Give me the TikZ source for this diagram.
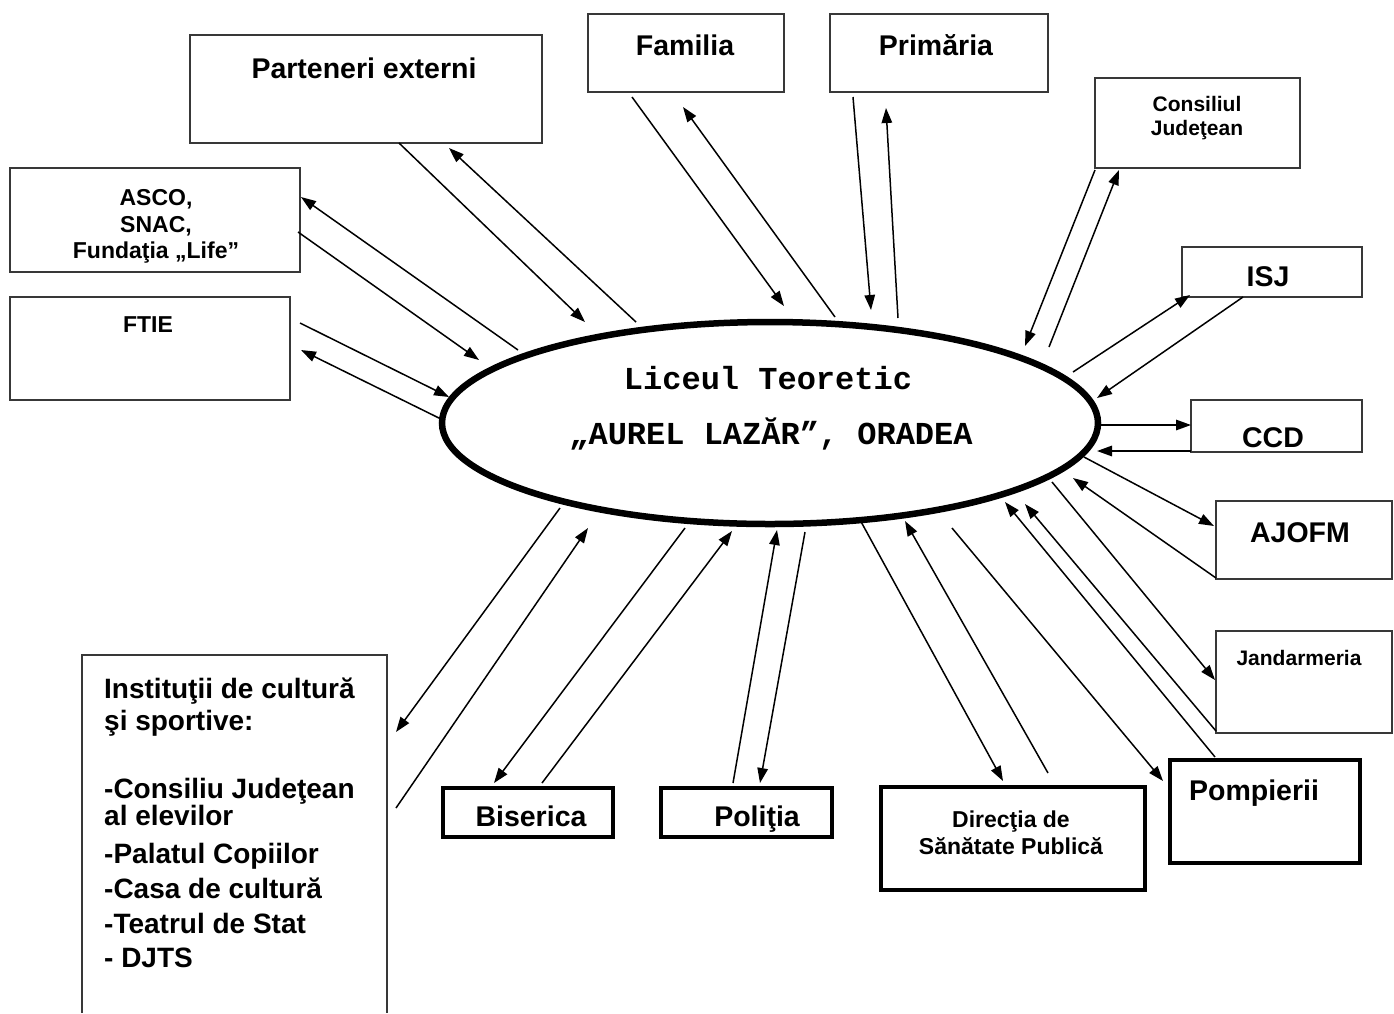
\documentclass[tikz,border=0pt]{standalone}
\usepackage{fontspec}
\setmainfont{Liberation Sans}
\newfontfamily\ellfont{Liberation Mono}
\usetikzlibrary{arrows.meta,shapes.geometric}
\tikzset{
  thinbox/.style={draw=black!78, line width=1.8pt, inner sep=0pt, outer sep=0pt, anchor=north west},
  thickbox/.style={draw=black, line width=3.2pt, inner sep=0pt, outer sep=0pt, anchor=north west},
  big/.style={font=\fontsize{28.5}{32}\selectfont\bfseries, inner sep=0pt, anchor=base},
  mid/.style={font=\fontsize{23}{26}\selectfont\bfseries, inner sep=0pt, anchor=base},
  small/.style={font=\fontsize{21}{24}\selectfont\bfseries, inner sep=0pt, anchor=base},
  insttxt/.style={font=\fontsize{28}{32}\selectfont\bfseries, inner sep=0pt, anchor=base west},
  elltxt/.style={font=\ellfont\fontsize{32}{36}\selectfont\bfseries, inner sep=0pt, anchor=base},
  conn/.style={line width=1.5pt, -{Triangle[length=15pt,width=10.5pt]}},
}
\begin{document}
\begin{tikzpicture}[x=1pt,y=-1pt]
\useasboundingbox[fill=white] (0,0) rectangle (1394,1013);

% central ellipse
\node[draw, ellipse, line width=6.5pt, minimum width=656pt, minimum height=202pt, inner sep=0pt] (lic) at (770,423) {};
\node[elltxt] (lic1) at (768,389) {Liceul Teoretic};
\node[elltxt] (lic2) at (771,444) {„AUREL LAZĂR”, ORADEA};

% thin boxes
\node[thinbox, minimum width=352pt, minimum height=108pt] (par) at (190,35) {};
\node[thinbox, minimum width=196pt, minimum height=78pt] (fam) at (588,14) {};
\node[thinbox, minimum width=218pt, minimum height=78pt] (pri) at (830,14) {};
\node[thinbox, minimum width=205pt, minimum height=90pt] (cj) at (1095,78) {};
\node[thinbox, minimum width=180pt, minimum height=50pt] (isj) at (1182,247) {};
\node[thinbox, minimum width=171pt, minimum height=52pt] (ccd) at (1191,400) {};
\node[thinbox, minimum width=176pt, minimum height=78pt] (ajofm) at (1216,501) {};
\node[thinbox, minimum width=176pt, minimum height=102pt] (jand) at (1216,631) {};
\node[thinbox, minimum width=290pt, minimum height=104pt] (asco) at (10,168) {};
\node[thinbox, minimum width=280pt, minimum height=103pt] (ftie) at (10,297) {};
\draw[draw=black!78, line width=1.8pt] (82,1013) |- (387,655) -- (387,1013);
\coordinate (inst) at (234,655);

% thick boxes
\node[thickbox, minimum width=170pt, minimum height=49pt] (bis) at (443,788) {};
\node[thickbox, minimum width=171pt, minimum height=49pt] (pol) at (661,788) {};
\node[thickbox, minimum width=264pt, minimum height=103pt] (dsp) at (881,787) {};
\node[thickbox, minimum width=190pt, minimum height=103pt] (pom) at (1170,760) {};

% labels
\node[big] (tpar) at (364,78) {Parteneri externi};
\node[big] (tfam) at (685,55) {Familia};
\node[big] (tpri) at (936,55) {Primăria};
\node[small] (tcj1) at (1197,111.5) {Consiliul};
\node[small] (tcj2) at (1197,135.5) {Judeţean};
\node[big] (tisj) at (1268,286) {ISJ};
\node[big] (tccd) at (1273,447) {CCD};
\node[big] (tajo) at (1300,542) {AJOFM};
\node[small] (tjan) at (1299,665.5) {Jandarmeria};
\node[big] (tpom) at (1254,800) {Pompierii};
\node[mid] (tdsp1) at (1011,827) {Direcţia de};
\node[mid] (tdsp2) at (1011,854) {Sănătate Publică};
\node[big] (tpol) at (757,826) {Poliţia};
\node[big] (tbis) at (531,826) {Biserica};
\node[mid] (tas1) at (156,205) {ASCO,};
\node[mid] (tas2) at (156,232) {SNAC,};
\node[mid] (tas3) at (156,258) {Fundaţia „Life”};
\node[mid] (tftie) at (148,332) {FTIE};
\node[insttxt] (ti1) at (104,698) {Instituţii de cultură};
\node[insttxt] (ti2) at (104,730) {şi sportive:};
\node[insttxt] (ti3) at (104,798) {-Consiliu Judeţean};
\node[insttxt] (ti4) at (104,825) {al elevilor};
\node[insttxt] (ti5) at (104,863) {-Palatul Copiilor};
\node[insttxt] (ti6) at (104,898) {-Casa de cultură};
\node[insttxt] (ti7) at (104,933) {-Teatrul de Stat};
\node[insttxt] (ti8) at (104,967) {- DJTS};

% connector end points
\coordinate (a1s) at (399,143);  \coordinate (a1e) at (585,322);
\coordinate (a2s) at (636,322);  \coordinate (a2e) at (449,148);
\coordinate (a3s) at (518,350);  \coordinate (a3e) at (301,197);
\coordinate (a4s) at (298,232);  \coordinate (a4e) at (479,360);
\coordinate (a5s) at (300,323);  \coordinate (a5e) at (449,397);
\coordinate (a6s) at (443,420);  \coordinate (a6e) at (301,350);
\coordinate (a7s) at (632,97);   \coordinate (a7e) at (784,306);
\coordinate (a8s) at (835,317);  \coordinate (a8e) at (683,107);
\coordinate (a9s) at (853,97);   \coordinate (a9e) at (871,310);
\coordinate (a10s) at (898,318); \coordinate (a10e) at (886,108);
\coordinate (a11s) at (1095,170);\coordinate (a11e) at (1025,346);
\coordinate (a12s) at (1049,347);\coordinate (a12e) at (1119,170);
\coordinate (a13s) at (1073,372);\coordinate (a13e) at (1190,295);
\coordinate (a14s) at (1243,297);\coordinate (a14e) at (1097,398);
\coordinate (a15s) at (1098,425);\coordinate (a15e) at (1191,425);
\coordinate (a16s) at (1191,451);\coordinate (a16e) at (1097,451);
\coordinate (a17s) at (1084,457);\coordinate (a17e) at (1214,526);
\coordinate (a18s) at (1216,578);\coordinate (a18e) at (1073,478);
\coordinate (a19s) at (1052,482);\coordinate (a19e) at (1215,680);
\coordinate (a20s) at (1216,731);\coordinate (a20e) at (1025,504);
\coordinate (a21s) at (1215,757);\coordinate (a21e) at (1005,502);
\coordinate (a22s) at (952,528); \coordinate (a22e) at (1163,781);
\coordinate (a23s) at (859,518); \coordinate (a23e) at (1003,781);
\coordinate (a24s) at (1048,773);\coordinate (a24e) at (905,521);
\coordinate (a25s) at (733,783); \coordinate (a25e) at (777,530);
\coordinate (a26s) at (805,532); \coordinate (a26e) at (760,783);
\coordinate (a27s) at (685,528); \coordinate (a27e) at (494,783);
\coordinate (a28s) at (542,783); \coordinate (a28e) at (732,531);
\coordinate (a29s) at (560,508); \coordinate (a29e) at (396,732);
\coordinate (a30s) at (396,808); \coordinate (a30e) at (588,528);

\foreach \i in {1,...,30} {\draw[conn] (a\i s) -- (a\i e);}
\end{tikzpicture}
\end{document}
